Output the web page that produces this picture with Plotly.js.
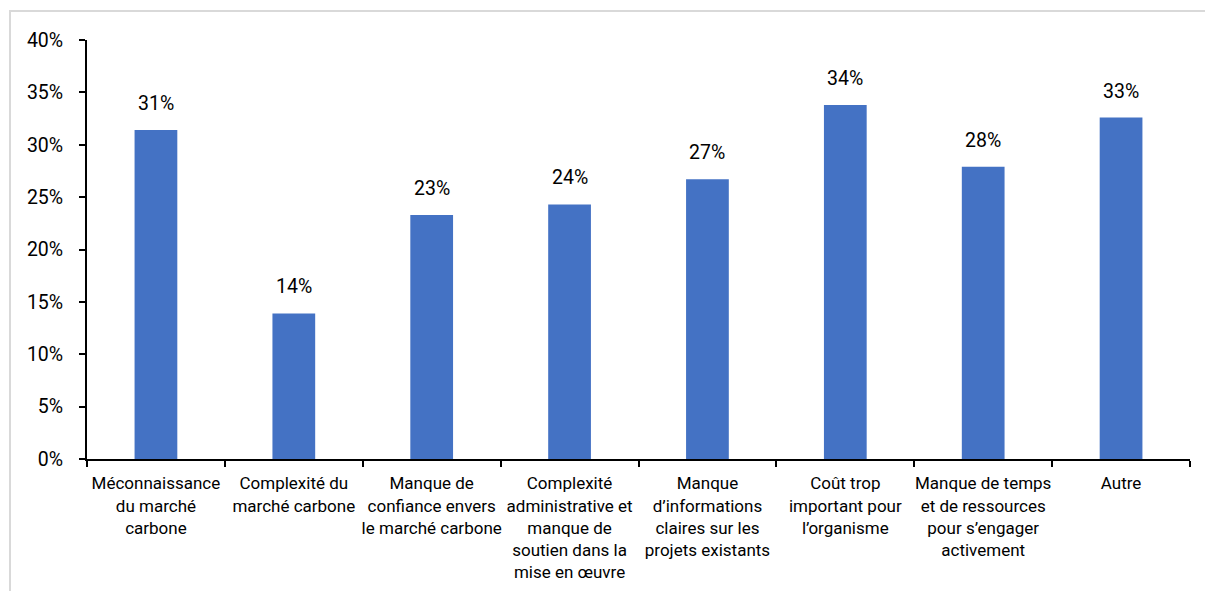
<!DOCTYPE html>
<html>
<head>
<meta charset="utf-8">
<script src="https://cdn.plot.ly/plotly-3.0.1.min.js"></script>
<style>
    html, body { margin: 0; padding: 0; background: #fff; overflow: hidden; }
    #frame { position: absolute; left: 9px; top: 10px; width: 1220px; height: 620px;
             border-top: 2px solid #d9d9d9; border-left: 2px solid #d9d9d9; }
    #chart { position: absolute; left: 0; top: 0; width: 1205px; height: 591px; }
</style>
</head>
<body>
<div id="frame"></div>
<div id="chart"></div>
<script>
const categories = [
    'Méconnaissance<br>du marché<br>carbone',
    'Complexité du<br>marché carbone',
    'Manque de<br>confiance envers<br>le marché carbone',
    'Complexité<br>administrative et<br>manque de<br>soutien dans la<br>mise en œuvre',
    'Manque<br>d’informations<br>claires sur les<br>projets existants',
    'Coût trop<br>important pour<br>l’organisme',
    'Manque de temps<br>et de ressources<br>pour s’engager<br>activement',
    'Autre'
];
const shares = [31.4, 13.9, 23.3, 24.3, 26.7, 33.8, 27.9, 32.6];
const shareLabels = ['31%', '14%', '23%', '24%', '27%', '34%', '28%', '33%'];

const font = 'Roboto, "Noto Sans", sans-serif';

const bars = {
    type: 'bar',
    x: categories,
    y: shares,
    marker: {color: '#4472C4'},
    hoverinfo: 'skip'
};

const labels = categories.map((cat, i) => ({
    x: cat,
    y: shares[i],
    xref: 'x',
    yref: 'y',
    text: shareLabels[i],
    showarrow: false,
    yanchor: 'bottom',
    yshift: 13,
    font: {family: font, size: 19.5, color: '#000'}
}));

const layout = {
    width: 1205,
    height: 591,
    margin: {l: 87, r: 15, t: 40, b: 132},
    paper_bgcolor: 'rgba(0,0,0,0)',
    plot_bgcolor: 'rgba(0,0,0,0)',
    bargap: 0.69,
    showlegend: false,
    font: {family: font, color: '#000'},
    xaxis: {
        type: 'category',
        tickson: 'boundaries',
        ticks: 'outside',
        ticklen: 6,
        tickwidth: 2,
        tickcolor: '#000',
        showline: true,
        linewidth: 2,
        linecolor: '#000',
        showgrid: false,
        tickangle: 0,
        ticklabelstandoff: 8,
        tickfont: {family: font, size: 17, color: '#000'},
        fixedrange: true
    },
    yaxis: {
        range: [0, 40],
        dtick: 5,
        ticksuffix: '%',
        ticks: 'outside',
        ticklen: 6,
        tickwidth: 2,
        tickcolor: '#000',
        showline: true,
        linewidth: 2,
        linecolor: '#000',
        showgrid: false,
        zeroline: false,
        ticklabelstandoff: 12,
        tickfont: {family: font, size: 19.5, color: '#000'},
        fixedrange: true
    },
    annotations: labels
};

Plotly.newPlot('chart', [bars], layout, {displayModeBar: false, staticPlot: true});
</script>
</body>
</html>
